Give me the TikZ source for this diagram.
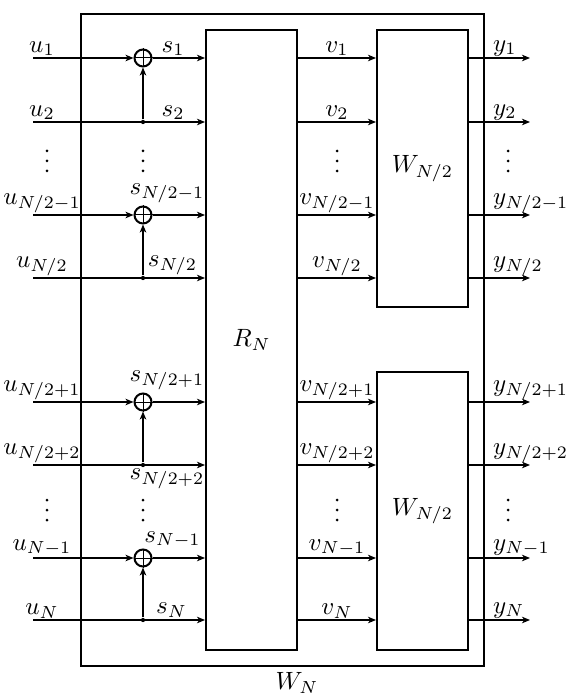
\documentclass[tikz,border=0pt]{standalone}
\usetikzlibrary{arrows.meta}
\begin{document}
\begin{tikzpicture}[x=0.4pt,y=-0.4pt]
\tikzset{
 box/.style={draw, line width=0.8pt, inner sep=0pt},
 arr/.style={-{Stealth[length=3.2pt,width=2.6pt,inset=0.9pt]}, line width=0.7pt},
 xorc/.style={circle, draw, line width=0.8pt, minimum size=6.8pt, inner sep=0pt},
 jdot/.style={circle, fill, minimum size=1.7pt, inner sep=0pt},
 lbl/.style={inner sep=0.6pt},
 vdot/.style={circle, fill, minimum size=1.2pt, inner sep=0pt},
}
\useasboundingbox (0,0) rectangle (567,698);
% row coordinates
\foreach \i/\y in {1/58,2/122,3/215,4/278,5/402,6/465,7/558,8/620}{
  \coordinate (in\i) at (33,\y);
  \coordinate (out\i) at (530,\y);
}
% boxes
\node[box, minimum width=161.2pt, minimum height=260.8pt] (WN) at (282.5,340) {};
\node[box, minimum width=36.4pt, minimum height=248pt] (R) at (251.5,340) {$R_N$};
\node[box, minimum width=36.4pt, minimum height=110.8pt] (Wa) at (422.5,168.5) {$W_{N/2}$};
\node[box, minimum width=36.4pt, minimum height=111.2pt] (Wb) at (422.5,511) {$W_{N/2}$};
\node (WNl) at (297,683) {$W_N$};
% xor circles and junction dots
\foreach \i/\y in {1/58,3/215,5/402,7/558}{
  \node[xorc] (x\i) at (143,\y) {};
  \draw[line width=0.4pt] (x\i.north) -- (x\i.south) (x\i.west) -- (x\i.east);
}
\foreach \i/\y in {2/122,4/278,6/465,8/620}
  \node[jdot] (d\i) at (143,\y) {};
% input connectors
\foreach \i in {1,3,5,7}{
  \draw[arr] (in\i) -- (x\i);
  \draw[arr] (x\i) -- (R.west |- in\i);
}
\foreach \i/\j in {2/1,4/3,6/5,8/7}{
  \draw[arr] (in\i) -- (R.west |- in\i);
  \draw[arr] (d\i) -- (x\j);
}
% outputs
\foreach \i in {1,2,3,4}{
  \draw[arr] (R.east |- in\i) -- (Wa.west |- in\i);
  \draw[arr] (Wa.east |- in\i) -- (out\i);
}
\foreach \i in {5,6,7,8}{
  \draw[arr] (R.east |- in\i) -- (Wb.west |- in\i);
  \draw[arr] (Wb.east |- in\i) -- (out\i);
}
% u labels
\node[lbl, anchor=south] (lu1) at (42,58) {$u_1$};
\node[lbl, anchor=south] (lu2) at (42,122) {$u_2$};
\node[lbl, anchor=south] (lu3) at (42,215) {$u_{N/2-1}$};
\node[lbl, anchor=south] (lu4) at (42,278) {$u_{N/2}$};
\node[lbl, anchor=south] (lu5) at (42,402) {$u_{N/2+1}$};
\node[lbl, anchor=south] (lu6) at (42,465) {$u_{N/2+2}$};
\node[lbl, anchor=south] (lu7) at (42,558) {$u_{N-1}$};
\node[lbl, anchor=south] (lu8) at (42,620) {$u_N$};
% s labels
\node[lbl, anchor=south] (ls1) at (173,58) {$s_1$};
\node[lbl, anchor=south] (ls2) at (173,122) {$s_2$};
\node[lbl, anchor=south] (ls3) at (167,205) {$s_{N/2-1}$};
\node[lbl, anchor=south] (ls4) at (172.5,277) {$s_{N/2}$};
\node[lbl, anchor=south] (ls5) at (167,392) {$s_{N/2+1}$};
\node[lbl, anchor=north] (ls6) at (167,467) {$s_{N/2+2}$};
\node[lbl, anchor=south] (ls7) at (172.5,550) {$s_{N-1}$};
\node[lbl, anchor=south] (ls8) at (171.5,619) {$s_N$};
% v labels
\node[lbl, anchor=south] (lv1) at (337,58) {$v_1$};
\node[lbl, anchor=south] (lv2) at (337,122) {$v_2$};
\node[lbl, anchor=south] (lv3) at (337,215) {$v_{N/2-1}$};
\node[lbl, anchor=south] (lv4) at (337,278) {$v_{N/2}$};
\node[lbl, anchor=south] (lv5) at (337,402) {$v_{N/2+1}$};
\node[lbl, anchor=south] (lv6) at (337,465) {$v_{N/2+2}$};
\node[lbl, anchor=south] (lv7) at (337,558) {$v_{N-1}$};
\node[lbl, anchor=south] (lv8) at (337,620) {$v_N$};
% y labels
\node[lbl, anchor=south west] (ly1) at (491,58) {$y_1$};
\node[lbl, anchor=south west] (ly2) at (491,122) {$y_2$};
\node[lbl, anchor=south west] (ly3) at (491,215) {$y_{N/2-1}$};
\node[lbl, anchor=south west] (ly4) at (491,278) {$y_{N/2}$};
\node[lbl, anchor=south west] (ly5) at (491,402) {$y_{N/2+1}$};
\node[lbl, anchor=south west] (ly6) at (491,465) {$y_{N/2+2}$};
\node[lbl, anchor=south west] (ly7) at (491,558) {$y_{N-1}$};
\node[lbl, anchor=south west] (ly8) at (491,620) {$y_N$};
% vertical dots (ellipses)
\foreach \c/\x in {a/47,b/143,c/337,d/508}{
  \foreach \k/\y in {1/151,2/161,3/171,4/500,5/510,6/520}
    \node[vdot] (vd\c\k) at (\x,\y) {};
}
\end{tikzpicture}
\end{document}
